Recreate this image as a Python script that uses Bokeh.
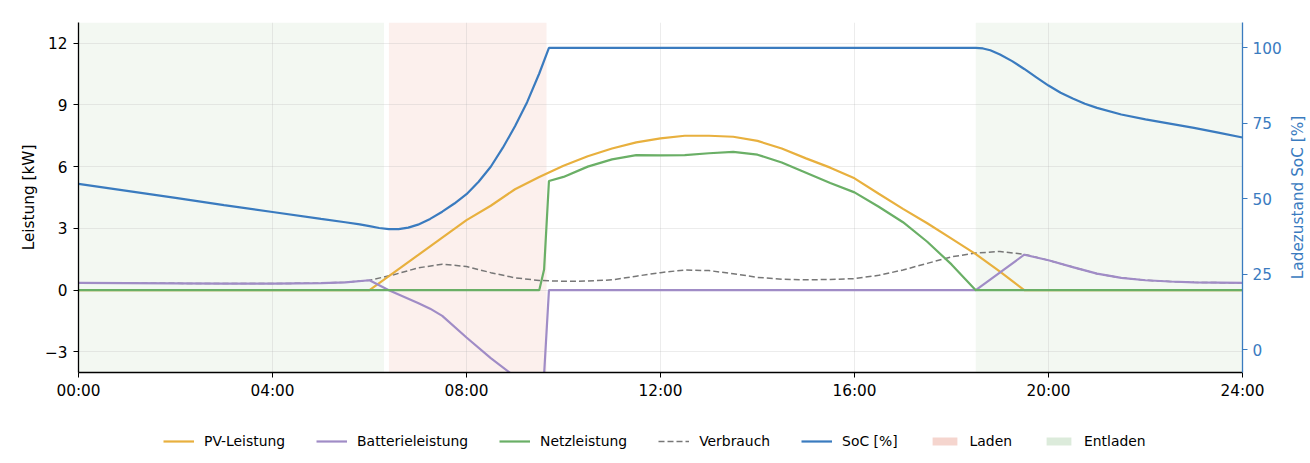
from bokeh.plotting import figure
from bokeh.layouts import column, row
from bokeh.models import (Range1d, LinearAxis, FixedTicker, Legend, LegendItem,
                          ColumnDataSource, CustomJSTickFormatter, Label)
from bokeh.embed import file_html
from bokeh.resources import INLINE

# ---------------- data ----------------
tick_hours = [0, 4, 8, 12, 16, 20, 24]
tick_labels = ["00:00", "04:00", "08:00", "12:00", "16:00", "20:00", "24:00"]
kw_ticks = [-3, 0, 3, 6, 9, 12]
soc_ticks = [0, 25, 50, 75, 100]

pv_t = [0, 6.0, 6.5, 7.0, 7.5, 8.0, 8.5, 9.0, 9.5, 10.0, 10.5, 11.0, 11.5, 12.0, 12.5,
        13.0, 13.5, 14.0, 14.5, 15.0, 15.5, 16.0, 16.5, 17.0, 17.5, 18.0, 18.5, 19.0, 19.5, 24]
pv_kw = [0, 0, 0.85, 1.7, 2.55, 3.4, 4.1, 4.9, 5.5, 6.04, 6.5, 6.88, 7.18, 7.37, 7.5,
         7.5, 7.45, 7.25, 6.88, 6.4, 5.95, 5.43, 4.68, 3.95, 3.25, 2.5, 1.75, 0.9, 0, 0]

bat_t = [0, 1, 2, 3, 4, 5, 5.5, 6.0, 6.4, 7.0, 7.25, 7.5, 8.0, 8.5, 9.0, 9.5, 9.6, 9.7,
         18.5, 19.5, 20.0, 20.5, 21.0, 21.5, 22.0, 22.5, 23.0, 24]
bat_kw = [0.35, 0.34, 0.33, 0.32, 0.32, 0.34, 0.38, 0.48, 0.0, -0.62, -0.9, -1.25, -2.3, -3.3,
          -4.2, -4.98, -4.1, 0.0,
          0.0, 1.72, 1.45, 1.12, 0.8, 0.6, 0.48, 0.42, 0.38, 0.35]

grid_t = [0, 9.5, 9.6, 9.7, 10.0, 10.5, 11.0, 11.5, 12.0, 12.5, 13.0, 13.5, 14.0, 14.5,
          15.0, 15.5, 16.0, 16.5, 17.0, 17.5, 18.0, 18.5, 24]
grid_kw = [0, 0, 1.0, 5.3, 5.5, 6.0, 6.35, 6.56, 6.55, 6.56, 6.65, 6.72, 6.58, 6.2,
           5.7, 5.2, 4.75, 4.05, 3.3, 2.35, 1.25, 0, 0]

load_t = [0, 1, 2, 3, 4, 5, 5.5, 6.0, 6.5, 7.0, 7.5, 8.0, 8.5, 9.0, 9.5, 10.0, 10.5, 11.0,
          11.5, 12.0, 12.5, 13.0, 13.5, 14.0, 14.5, 15.0, 15.5, 16.0, 16.5, 17.0, 17.5,
          18.0, 18.5, 19.0, 19.5, 20.0, 20.5, 21.0, 21.5, 22.0, 22.5, 23.0, 24]
load_kw = [0.35, 0.34, 0.33, 0.32, 0.32, 0.34, 0.38, 0.48, 0.75, 1.08, 1.26, 1.15, 0.85,
           0.6, 0.47, 0.43, 0.44, 0.5, 0.68, 0.85, 0.98, 0.95, 0.8, 0.62, 0.53, 0.5, 0.52,
           0.56, 0.72, 0.98, 1.3, 1.62, 1.8, 1.88, 1.74, 1.45, 1.12, 0.8, 0.6, 0.48, 0.42,
           0.38, 0.35]

soc_t = [0, 1, 2, 3, 4, 5, 5.5, 5.8, 6.0, 6.2, 6.4, 6.6, 6.8, 7.0, 7.25, 7.5, 7.75, 8.0,
         8.25, 8.5, 8.75, 9.0, 9.25, 9.5, 9.7, 18.5, 18.65, 18.8, 19.0, 19.25, 19.5, 19.75,
         20.0, 20.25, 20.5, 20.75, 21.0, 21.5, 22.0, 22.5, 23.0, 23.5, 24]
soc_pct = [54.9, 52.6, 50.3, 47.9, 45.6, 43.3, 42.2, 41.5, 40.9, 40.3, 39.9, 39.9, 40.4,
           41.4, 43.3, 45.7, 48.4, 51.5, 55.6, 60.6, 66.9, 74.0, 82.0, 91.5, 100, 100, 99.8,
           99.2, 97.8, 95.6, 93.0, 90.2, 87.5, 85.1, 83.2, 81.5, 80.1, 77.9, 76.3, 74.9,
           73.5, 71.9, 70.3]

laden_start = [6.4]
laden_end = [9.65]
entladen_start = [0.0, 18.5]
entladen_end = [6.3, 24.0]

# ---------------- style ----------------
C_PV = "#e8b03e"
C_BAT = "#a08cc6"
C_GRID = "#6aaf66"
C_LOAD = "#777777"
C_SOC = "#3a7bbf"
FONT = "DejaVu Sans"
TICK_FS = "15.3px"
LEG_FS = "13.9px"

p = figure(frame_width=1164, frame_height=350,
           output_backend="svg", toolbar_location=None,
           x_range=Range1d(0, 24), y_range=Range1d(-4, 13),
           min_border_left=78, min_border_right=46, min_border_top=22, min_border_bottom=30)
p.outline_line_color = None
p.background_fill_color = "white"
p.extra_y_ranges = {"soc": Range1d(-7.6, 108.4)}

src_l = ColumnDataSource(dict(left=laden_start, right=laden_end))
src_e = ColumnDataSource(dict(left=entladen_start, right=entladen_end))
p.quad(left="left", right="right", bottom=-4, top=13, source=src_e,
       fill_color="#f3f8f2", line_color=None, level="image")
p.quad(left="left", right="right", bottom=-4, top=13, source=src_l,
       fill_color="#fcf0ed", line_color=None, level="image")

line_specs = [
    ("Verbrauch", load_t, load_kw, C_LOAD, 1.5, "6 3", "default"),
    ("PV-Leistung", pv_t, pv_kw, C_PV, 2.2, "solid", "default"),
    ("Batterieleistung", bat_t, bat_kw, C_BAT, 2.2, "solid", "default"),
    ("Netzleistung", grid_t, grid_kw, C_GRID, 2.2, "solid", "default"),
    ("SoC [%]", soc_t, soc_pct, C_SOC, 2.2, "solid", "soc"),
]
for name, t, v, c, w, d, rn in line_specs:
    p.line(t, v, line_color=c, line_width=w, line_dash=d, y_range_name=rn)

# axes
p.xaxis.ticker = FixedTicker(ticks=tick_hours)
p.xaxis.major_label_overrides = {h: l for h, l in zip(tick_hours, tick_labels)}
p.yaxis.ticker = FixedTicker(ticks=kw_ticks)
p.yaxis.formatter = CustomJSTickFormatter(
    code="return (tick < 0 ? '\u2212' : '') + Math.abs(tick).toString();")
p.yaxis.axis_label = "Leistung [kW]"

for ax in (p.xaxis[0], p.yaxis[0]):
    ax.axis_line_color = "black"
    ax.axis_line_width = 1.3
    ax.major_tick_line_color = "black"
    ax.major_tick_out = 5
    ax.major_tick_in = 0
    ax.minor_tick_line_color = None
    ax.major_label_text_font = FONT
    ax.major_label_text_font_size = TICK_FS
    ax.major_label_text_color = "black"
    ax.major_label_standoff = 5
    ax.axis_label_text_font = FONT
    ax.axis_label_text_font_size = TICK_FS
    ax.axis_label_text_font_style = "normal"
    ax.axis_label_text_color = "black"
p.yaxis.major_label_standoff = 6
p.yaxis.axis_label_standoff = 4
p.xaxis.major_label_standoff = 4

ax2 = LinearAxis(y_range_name="soc", ticker=FixedTicker(ticks=soc_ticks))
ax2.axis_line_color = C_SOC
ax2.axis_line_width = 1.3
ax2.major_tick_line_color = C_SOC
ax2.major_tick_out = 5
ax2.major_tick_in = 0
ax2.minor_tick_line_color = None
ax2.major_label_text_font = FONT
ax2.major_label_text_font_size = TICK_FS
ax2.major_label_text_color = C_SOC
ax2.major_label_standoff = 5
p.add_layout(ax2, "right")

p.xgrid.ticker = FixedTicker(ticks=tick_hours)
p.ygrid.ticker = FixedTicker(ticks=kw_ticks)
for g in (p.xgrid[0], p.ygrid[0]):
    g.grid_line_color = "#b0b0b0"
    g.grid_line_alpha = 0.3
    g.grid_line_width = 0.8

MAIN_H = 22 + 350 + 30
MAIN_W = 78 + 1164 + 46

# narrow strip holding the right axis title (reads bottom-to-top)
pt = figure(width=1310 - MAIN_W, height=MAIN_H, output_backend="svg", toolbar_location=None,
            x_axis_location=None, y_axis_location=None, min_border=0,
            x_range=Range1d(0, 1), y_range=Range1d(0, 1))
pt.outline_line_color = None
pt.grid.visible = False
pt.add_layout(Label(x=9, y=MAIN_H - 227, x_units="screen", y_units="screen",
                    text="Ladezustand SoC [%]", angle=90, angle_units="deg",
                    text_align="center", text_baseline="middle", text_font=FONT,
                    text_font_size=TICK_FS, text_color=C_SOC))

# legend strip
LEG_H = 463 - MAIN_H
pl = figure(width=1310, height=LEG_H, output_backend="svg", toolbar_location=None,
            x_axis_location=None, y_axis_location=None, min_border=0,
            x_range=Range1d(100, 101), y_range=Range1d(100, 101))
pl.outline_line_color = None
pl.grid.visible = False
handles = {}
for name, t, v, c, w, d, rn in line_specs:
    handles[name] = pl.line(t, v, line_color=c, line_width=w, line_dash=d)
handles["Laden"] = pl.quad(left="left", right="right", bottom=-4, top=13, source=src_l,
                           fill_color="#f5d5ce", line_color=None)
handles["Entladen"] = pl.quad(left="left", right="right", bottom=-4, top=13, source=src_e,
                              fill_color="#dcebdb", line_color=None)
order = ["PV-Leistung", "Batterieleistung", "Netzleistung", "Verbrauch", "SoC [%]",
         "Laden", "Entladen"]
legend = Legend(items=[LegendItem(label=n, renderers=[handles[n]], index=0) for n in order],
                orientation="horizontal", location=(163, 14))
legend.label_text_font = FONT
legend.label_text_font_size = LEG_FS
legend.label_text_color = "black"
legend.glyph_width = 31
legend.glyph_height = 10
legend.label_standoff = 10
legend.spacing = 31
legend.border_line_color = None
legend.background_fill_alpha = 0
legend.margin = 0
legend.padding = 5
pl.add_layout(legend)

layout = column(row(p, pt, spacing=0), pl, spacing=0)
open("out.html", "w").write(file_html(layout, INLINE))
